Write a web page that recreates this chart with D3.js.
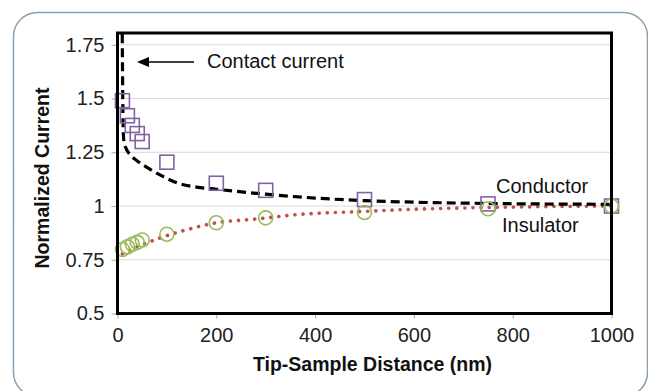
<!DOCTYPE html>
<html>
<head>
<meta charset="utf-8">
<script src="https://cdn.jsdelivr.net/npm/d3@7"></script>
<style>
  body { margin: 0; background: #fff; }
  svg { display: block; font-family: "Liberation Sans", Arial, sans-serif; }
</style>
</head>
<body>
<div id="chart"></div>
<script>
"use strict";
let width = 648;
let height = 391;

// measured data
let distances = [10, 20, 30, 40, 50, 100, 200, 300, 500, 750, 1000];
let conductor = [1.49, 1.42, 1.375, 1.337, 1.30, 1.204, 1.106, 1.073, 1.03, 1.01, 1.0];
let insulator = [0.798, 0.81, 0.822, 0.831, 0.842, 0.869, 0.922, 0.945, 0.97, 0.987, 1.0];

// fitted curves
let condFitX = [9.6, 10.2, 10.8, 11.6, 13, 18, 25, 40, 63, 90, 124, 160, 200, 300, 400, 500, 600, 750, 1000];
let condFitY = [1.80, 1.62, 1.47, 1.36, 1.30, 1.265, 1.24, 1.21, 1.175, 1.14, 1.105, 1.088, 1.078, 1.055, 1.037, 1.025, 1.018, 1.012, 1.008];
let insFitX = [10, 30, 50, 83, 133, 200, 282, 363, 500, 600, 750, 1000];
let insFitY = [0.777, 0.80, 0.82, 0.849, 0.885, 0.922, 0.94, 0.96, 0.975, 0.985, 0.993, 1.0];

let xTicks = [0, 200, 400, 600, 800, 1000];
let yTicks = [0.5, 0.75, 1, 1.25, 1.5, 1.75];

let plot = {left: 117.5, right: 611.5, top: 33, bottom: 313.5};

let xScale = d3.scaleLinear().domain([0, 1000]).range([plot.left, plot.right]);
let yScale = d3.scaleLinear().domain([0.5, 1.805]).range([plot.bottom, plot.top]);

let svg = d3.select("#chart").append("svg")
    .attr("width", width)
    .attr("height", height);

// outer rounded frame
svg.append("rect")
    .attr("x", 13.5).attr("y", 12.5)
    .attr("width", 634).attr("height", 384)
    .attr("rx", 24).attr("ry", 24)
    .attr("fill", "#fff")
    .attr("stroke", "#8aa0b0")
    .attr("stroke-width", 1.5);

// gridlines
svg.append("g")
    .selectAll("line")
    .data(yTicks.slice(1))
    .enter()
    .append("line")
    .attr("x1", plot.left).attr("x2", plot.right)
    .attr("y1", d => yScale(d)).attr("y2", d => yScale(d))
    .attr("stroke", "#d9d9d9")
    .attr("stroke-width", 1);

// Y axis
let yAxis = d3.axisLeft(yScale).tickValues(yTicks).tickSize(6).tickPadding(7)
    .tickFormat(d => String(d));
let gy = svg.append("g")
    .attr("transform", "translate(" + plot.left + ",0)")
    .call(yAxis);
gy.select(".domain").remove();
gy.selectAll(".tick line").attr("stroke", "#a6a6a6");
gy.selectAll(".tick text")
    .style("font-size", "20px")
    .attr("fill", "#222");

// X axis
let xAxis = d3.axisBottom(xScale).tickValues(xTicks).tickSize(5).tickPadding(9)
    .tickFormat(d => String(d));
let gx = svg.append("g")
    .attr("transform", "translate(0," + plot.bottom + ")")
    .call(xAxis);
gx.select(".domain").remove();
gx.selectAll(".tick line").attr("stroke", "#a6a6a6");
gx.selectAll(".tick text")
    .style("font-size", "20px")
    .attr("fill", "#222");

// fit lines
let condFit = condFitX.map((x, i) => [x, condFitY[i]]);
let insFit = insFitX.map((x, i) => [x, insFitY[i]]);
let line = d3.line()
    .x(d => xScale(d[0]))
    .y(d => yScale(d[1]))
    .curve(d3.curveMonotoneX);

svg.append("path")
    .attr("d", line(insFit))
    .attr("fill", "none")
    .attr("stroke", "#c0504d")
    .attr("stroke-width", 3.6)
    .attr("stroke-linecap", "round")
    .attr("stroke-dasharray", "0.1 8");

svg.append("path")
    .attr("d", line(condFit))
    .attr("fill", "none")
    .attr("stroke", "#000")
    .attr("stroke-width", 3.2)
    .attr("stroke-dasharray", "9 5");

// markers
let squareSize = 14;
svg.append("g")
    .selectAll("rect")
    .data(conductor)
    .enter()
    .append("rect")
    .attr("x", (d, i) => xScale(distances[i]) - squareSize / 2)
    .attr("y", d => yScale(d) - squareSize / 2)
    .attr("width", squareSize)
    .attr("height", squareSize)
    .attr("fill", "none")
    .attr("stroke", "#8064a2")
    .attr("stroke-width", 1.6);

svg.append("g")
    .selectAll("circle")
    .data(insulator)
    .enter()
    .append("circle")
    .attr("cx", (d, i) => xScale(distances[i]))
    .attr("cy", d => yScale(d))
    .attr("r", 7)
    .attr("fill", "none")
    .attr("stroke", "#9bbb59")
    .attr("stroke-width", 1.6);

// plot frame
svg.append("rect")
    .attr("x", plot.left).attr("y", plot.top)
    .attr("width", plot.right - plot.left)
    .attr("height", plot.bottom - plot.top)
    .attr("fill", "none")
    .attr("stroke", "#000")
    .attr("stroke-width", 3);

// annotations
svg.append("defs").append("marker")
    .attr("id", "arrow")
    .attr("markerUnits", "userSpaceOnUse")
    .attr("viewBox", "0 0 12 10")
    .attr("refX", 2).attr("refY", 5)
    .attr("markerWidth", 12).attr("markerHeight", 10)
    .attr("orient", "auto")
    .append("path")
    .attr("d", "M0,0 L12,5 L0,10 Z")
    .attr("fill", "#000");

svg.append("line")
    .attr("x1", 194).attr("y1", 62)
    .attr("x2", 147).attr("y2", 62)
    .attr("stroke", "#000")
    .attr("stroke-width", 1.6)
    .attr("marker-end", "url(#arrow)");

svg.append("text")
    .attr("x", 207).attr("y", 68)
    .style("font-size", "20px")
    .attr("fill", "#111")
    .text("Contact current");

svg.append("text")
    .attr("x", 496).attr("y", 193)
    .style("font-size", "20px")
    .attr("fill", "#111")
    .text("Conductor");

svg.append("text")
    .attr("x", 502).attr("y", 232)
    .style("font-size", "20px")
    .attr("fill", "#111")
    .text("Insulator");

// axis titles
svg.append("text")
    .attr("x", (plot.left + plot.right) / 2 + 8)
    .attr("y", 371)
    .attr("text-anchor", "middle")
    .style("font-size", "19.5px")
    .style("font-weight", "bold")
    .attr("fill", "#111")
    .text("Tip-Sample Distance (nm)");

svg.append("text")
    .attr("transform", "translate(49,178) rotate(-90)")
    .attr("text-anchor", "middle")
    .style("font-size", "19.5px")
    .style("font-weight", "bold")
    .attr("fill", "#111")
    .text("Normalized Current");
</script>
</body>
</html>
